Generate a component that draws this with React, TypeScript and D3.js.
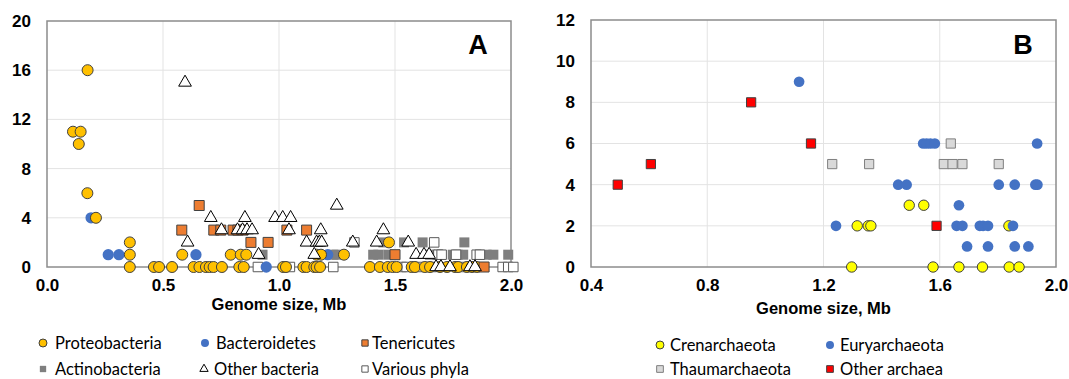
import React, { useEffect, useRef } from "react";
import * as d3 from "d3";

type Pt = [number, number];

// Panel A: bacteria, genome size (Mb) vs count
const proteobacteria: Pt[] = [
  [0.175, 16], [0.112, 11], [0.145, 11], [0.137, 10], [0.174, 6], [0.211, 4],
  [0.357, 2], [0.357, 1], [0.357, 0], [0.461, 0], [0.483, 0], [0.539, 0],
  [0.583, 1], [0.632, 0], [0.657, 0], [0.685, 0], [0.701, 0], [0.718, 0],
  [0.754, 0], [0.792, 1], [0.835, 1], [0.859, 1], [0.829, 0], [0.848, 0],
  [1.018, 0], [1.03, 0], [1.105, 0], [1.119, 0], [1.152, 0], [1.162, 0],
  [1.177, 0], [1.162, 1], [1.181, 1], [1.28, 1], [1.474, 2], [1.392, 0],
  [1.435, 0], [1.469, 0], [1.49, 0], [1.507, 0], [1.572, 0], [1.586, 0],
  [1.629, 0], [1.651, 0], [1.694, 0], [1.724, 0], [1.759, 0], [1.772, 0],
  [1.81, 0], [1.832, 0], [1.853, 0],
];
const bacteroidetes: Pt[] = [
  [0.19, 4], [0.264, 1], [0.31, 1], [0.642, 1], [0.945, 0], [1.21, 1],
];
const tenericutes: Pt[] = [
  [0.656, 5], [0.581, 3], [0.719, 3], [0.749, 3], [0.802, 3], [0.823, 3],
  [0.845, 3], [0.879, 2], [0.953, 2], [1.034, 3], [1.119, 3], [1.5, 1],
  [1.884, 0],
];
const actinobacteria: Pt[] = [
  [0.929, 1], [1.234, 1], [1.249, 1], [1.406, 1], [1.428, 1], [1.471, 1],
  [1.45, 2], [1.539, 2], [1.619, 2], [1.799, 2], [1.651, 1], [1.68, 1],
  [1.749, 1], [1.77, 1], [1.794, 1], [1.895, 1], [1.924, 1], [1.988, 1],
];
const otherBacteria: Pt[] = [
  [0.595, 15], [0.706, 4], [0.606, 2], [0.853, 4], [0.752, 3], [0.821, 3],
  [0.843, 3], [0.862, 3], [0.884, 3], [0.912, 1], [0.983, 4], [1.016, 4],
  [1.05, 4], [1.249, 5], [1.043, 3], [1.18, 3], [1.119, 2], [1.162, 2],
  [1.174, 2], [1.184, 2], [1.318, 2], [1.421, 2], [1.557, 2], [1.45, 3],
  [1.152, 1], [1.591, 1], [1.625, 1], [1.647, 1], [1.677, 0], [1.698, 0],
  [1.737, 0], [1.823, 0], [1.845, 0],
];
const variousPhyla: Pt[] = [
  [0.909, 0], [1.047, 0], [1.234, 0], [1.325, 2], [1.669, 2], [1.687, 1],
  [1.701, 1], [1.763, 1], [1.852, 1], [1.866, 1], [1.529, 0], [1.55, 0],
  [1.603, 0], [1.659, 0], [1.789, 0], [1.964, 0], [1.988, 0], [2.01, 0],
];

// Panel B: archaea
const crenarchaeota: Pt[] = [
  [1.495, 3], [1.545, 3], [1.316, 2], [1.354, 2], [1.363, 2], [1.838, 2],
  [1.297, 0], [1.577, 0], [1.666, 0], [1.747, 0], [1.839, 0], [1.873, 0],
];
const euryarchaeota: Pt[] = [
  [1.116, 9], [1.543, 6], [1.555, 6], [1.568, 6], [1.583, 6], [1.935, 6],
  [1.457, 4], [1.486, 4], [1.803, 4], [1.858, 4], [1.929, 4], [1.936, 4],
  [1.666, 3], [1.243, 2], [1.658, 2], [1.678, 2], [1.738, 2], [1.749, 2],
  [1.766, 2], [1.852, 2], [1.694, 1], [1.766, 1], [1.858, 1], [1.905, 1],
];
const thaumarchaeota: Pt[] = [
  [1.638, 6], [1.23, 5], [1.357, 5], [1.614, 5], [1.644, 5], [1.678, 5],
  [1.803, 5],
];
const otherArchaea: Pt[] = [
  [0.492, 4], [0.606, 5], [0.951, 8], [1.157, 6], [1.589, 2],
];

const ticksAX = [0, 0.5, 1.0, 1.5, 2.0];
const ticksAY = [0, 4, 8, 12, 16, 20];
const ticksBX = [0.4, 0.8, 1.2, 1.6, 2.0];
const ticksBY = [0, 2, 4, 6, 8, 10, 12];

interface Series {
  name: string;
  data: Pt[];
  shape: d3.SymbolType;
  size: number;
  fill: string;
  stroke: string;
  legendSize: number;
}

const circle = d3.symbolCircle;
const square = d3.symbolSquare;
const tri = d3.symbolTriangle;

const seriesA: Series[] = [
  { name: "Actinobacteria", data: actinobacteria, shape: square, size: 100, fill: "#7f7f7f", stroke: "none", legendSize: 40 },
  { name: "Various phyla", data: variousPhyla, shape: square, size: 90, fill: "#ffffff", stroke: "#595959", legendSize: 40 },
  { name: "Bacteroidetes", data: bacteroidetes, shape: circle, size: 100, fill: "#4472c4", stroke: "none", legendSize: 50 },
  { name: "Proteobacteria", data: proteobacteria, shape: circle, size: 95, fill: "#ffc000", stroke: "#404040", legendSize: 50 },
  { name: "Tenericutes", data: tenericutes, shape: square, size: 100, fill: "#ed7d31", stroke: "#404040", legendSize: 40 },
  { name: "Other bacteria", data: otherBacteria, shape: tri, size: 70, fill: "#ffffff", stroke: "#000000", legendSize: 30 },
];

const seriesB: Series[] = [
  { name: "Crenarchaeota", data: crenarchaeota, shape: circle, size: 85, fill: "#ffff00", stroke: "#404040", legendSize: 50 },
  { name: "Euryarchaeota", data: euryarchaeota, shape: circle, size: 90, fill: "#4472c4", stroke: "none", legendSize: 50 },
  { name: "Thaumarchaeota", data: thaumarchaeota, shape: square, size: 85, fill: "#d9d9d9", stroke: "#7f7f7f", legendSize: 45 },
  { name: "Other archaea", data: otherArchaea, shape: square, size: 85, fill: "#ff0000", stroke: "#404040", legendSize: 45 },
];

const App: React.FC = () => {
  const ref = useRef<SVGSVGElement | null>(null);

  useEffect(() => {
    const svg = d3.select(ref.current);
    svg.selectAll("*").remove();

    const axisFont = "'Liberation Sans', Arial, sans-serif";
    const legendFont = "Lato, 'Open Sans', sans-serif";

    const panel = (
      xDom: [number, number], xRange: [number, number],
      yDom: [number, number], yRange: [number, number],
      xt: number[], yt: number[], series: Series[], letter: string,
      titleY: number,
    ) => {
      const x = d3.scaleLinear().domain(xDom).range(xRange);
      const y = d3.scaleLinear().domain(yDom).range(yRange);
      const g = svg.append("g");

      // gridlines
      g.selectAll("line.gx")
        .data(xt.slice(1, -1))
        .join("line")
        .attr("x1", (d) => x(d)).attr("x2", (d) => x(d))
        .attr("y1", yRange[0]).attr("y2", yRange[1])
        .attr("stroke", "#e3e3e3").attr("stroke-width", 1);
      g.selectAll("line.gy")
        .data(yt.slice(1, -1))
        .join("line")
        .attr("y1", (d) => y(d)).attr("y2", (d) => y(d))
        .attr("x1", xRange[0]).attr("x2", xRange[1])
        .attr("stroke", "#e3e3e3").attr("stroke-width", 1);

      // frame
      g.append("rect")
        .attr("x", xRange[0]).attr("y", yRange[1])
        .attr("width", xRange[1] - xRange[0]).attr("height", yRange[0] - yRange[1])
        .attr("fill", "none").attr("stroke", "#8c8c8c").attr("stroke-width", 1.5);

      // axes
      const ax = g.append("g")
        .attr("transform", `translate(0,${yRange[0]})`)
        .call(d3.axisBottom(x).tickValues(xt).tickFormat(d3.format(".1f")).tickSize(0).tickPadding(12));
      const ay = g.append("g")
        .attr("transform", `translate(${xRange[0]},0)`)
        .call(d3.axisLeft(y).tickValues(yt).tickFormat(d3.format("d")).tickSize(0).tickPadding(16));
      [ax, ay].forEach((a) => {
        a.select(".domain").remove();
        a.selectAll("text")
          .attr("font-family", axisFont)
          .attr("font-weight", "bold")
          .attr("font-size", 17)
          .attr("fill", "#000");
      });

      g.append("text")
        .attr("x", (xRange[0] + xRange[1]) / 2)
        .attr("y", titleY)
        .attr("text-anchor", "middle")
        .attr("font-family", axisFont)
        .attr("font-weight", "bold")
        .attr("font-size", 16.5)
        .text("Genome size, Mb");

      g.append("text")
        .attr("x", xRange[1] - 33)
        .attr("y", 54)
        .attr("text-anchor", "middle")
        .attr("font-family", axisFont)
        .attr("font-weight", "bold")
        .attr("font-size", 27)
        .text(letter);

      // points
      series.forEach((s) => {
        const sym = d3.symbol().type(s.shape).size(s.size);
        g.append("g")
          .selectAll("path")
          .data(s.data)
          .join("path")
          .attr("d", sym)
          .attr("transform", (d) => `translate(${x(d[0])},${y(d[1])})`)
          .attr("fill", s.fill)
          .attr("stroke", s.stroke)
          .attr("stroke-width", 1);
      });
    };

    panel([0, 2], [47, 511], [0, 20], [267, 21], ticksAX, ticksAY, seriesA, "A", 310);
    panel([0.4, 2.0], [591, 1056], [0, 12], [267, 20], ticksBX, ticksBY, seriesB, "B", 314);

    const legend = (
      items: { s: Series; x: number; tx: number; y: number }[],
    ) => {
      const lg = svg.append("g");
      items.forEach(({ s, x, tx, y }) => {
        lg.append("path")
          .attr("d", d3.symbol().type(s.shape).size(s.legendSize)())
          .attr("transform", `translate(${x},${y})`)
          .attr("fill", s.fill)
          .attr("stroke", s.stroke)
          .attr("stroke-width", 1);
        lg.append("text")
          .attr("x", tx)
          .attr("y", y)
          .attr("dy", "0.35em")
          .attr("font-family", legendFont)
          .attr("font-size", 16.5)
          .attr("fill", "#000")
          .text(s.name);
      });
    };

    const byName = (arr: Series[], n: string) => arr.find((s) => s.name === n)!;
    legend([
      { s: byName(seriesA, "Proteobacteria"), x: 43, tx: 55, y: 343 },
      { s: byName(seriesA, "Bacteroidetes"), x: 205, tx: 216, y: 343 },
      { s: byName(seriesA, "Tenericutes"), x: 365, tx: 372, y: 343 },
      { s: byName(seriesA, "Actinobacteria"), x: 43, tx: 55, y: 369 },
      { s: byName(seriesA, "Other bacteria"), x: 204, tx: 214, y: 369 },
      { s: byName(seriesA, "Various phyla"), x: 365, tx: 372, y: 369 },
    ]);
    legend([
      { s: byName(seriesB, "Crenarchaeota"), x: 660, tx: 670, y: 345 },
      { s: byName(seriesB, "Euryarchaeota"), x: 830, tx: 840, y: 345 },
      { s: byName(seriesB, "Thaumarchaeota"), x: 660, tx: 670, y: 369 },
      { s: byName(seriesB, "Other archaea"), x: 830, tx: 840, y: 369 },
    ]);
  }, []);

  return (
    <svg
      ref={ref}
      width={1069}
      height={379}
      style={{ position: "absolute", left: 0, top: 0, background: "#fff" }}
    />
  );
};

export default App;
